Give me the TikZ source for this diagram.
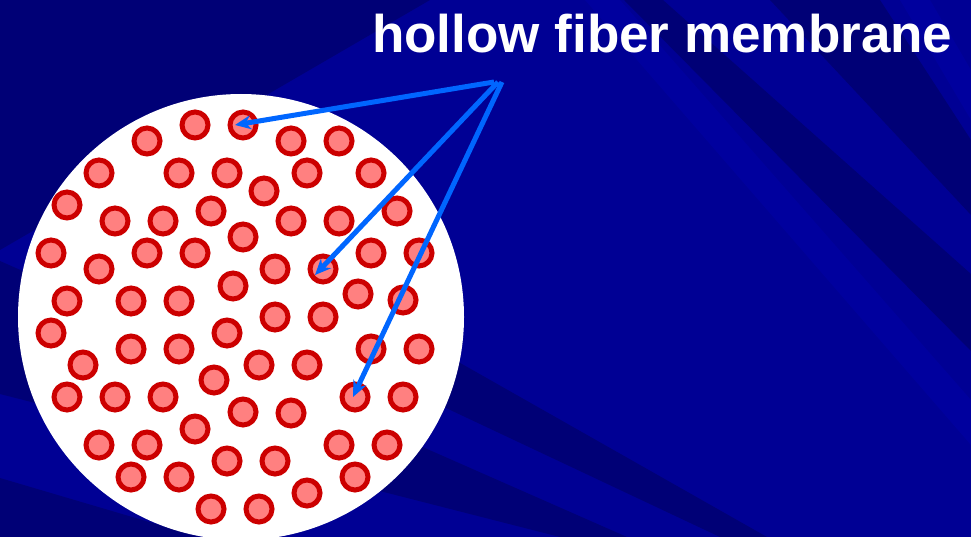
\documentclass[tikz,border=0pt]{standalone}
\usepackage{fontspec}
\setmainfont{Liberation Sans}
\usetikzlibrary{arrows.meta,calc}

\definecolor{slide}{RGB}{0,0,148}
\definecolor{slidedark}{RGB}{0,0,118}
\definecolor{slidelight}{RGB}{0,0,158}
\definecolor{fiberred}{RGB}{204,0,0}
\definecolor{fiberfill}{RGB}{255,128,128}
\definecolor{pointer}{RGB}{0,102,255}

\tikzset{
    fiber/.style={circle, draw=fiberred, fill=fiberfill, line width=5pt, minimum size=26pt, inner sep=0pt},
    pointer/.style={draw=pointer, line width=5pt, -{Stealth[length=16pt,width=14pt]}}
}

\begin{document}
\begin{tikzpicture}[x=1pt,y=-1pt]
        % background
        \useasboundingbox (0,0) rectangle (971,537);
        \clip (0,0) rectangle (971,537);
        \fill[slide] (0,0) rectangle (971,537);
        \fill[slidedark] (0,0) -- (430,0) -- (0,250) -- cycle;
        \fill[slidedark] (0,102) -- (767,537) -- (720,537) -- (0,198) -- cycle;
        \fill[slidedark] (0,261) -- (627,537) -- (560,537) -- (0,394) -- cycle;
        \fill[slidedark] (0,478) -- (200,537) -- (0,537) -- cycle;
        \fill[slidedark] (624,0) -- (663,0) -- (971,274) -- (971,351) -- cycle;
        \fill[slidedark] (770,0) -- (880,0) -- (971,140) -- (971,215) -- cycle;
        \fill[slidelight] (585,0) -- (620,0) -- (971,400) -- (971,445) -- cycle;
        \fill[slidelight] (900,0) -- (930,0) -- (971,70) -- (971,120) -- cycle;
        % cross section
        \fill[white] (241,317) circle[radius=223];
        % hollow fibers
        \foreach \x/\y [count=\i] in {195/125, 243/125, 147/141, 291/141, 339/141,
            99/173, 179/173, 227/173, 307/173, 371/173, 264/191, 67/205, 211/211,
            397/211, 115/221, 163/221, 291/221, 339/221, 243/237, 51/253, 147/253,
            195/253, 371/253, 419/253, 99/269, 275/269, 323/269, 233/286, 358/294,
            67/301, 131/301, 179/301, 403/300, 275/317, 323/317, 51/333, 227/333,
            131/349, 179/349, 371/349, 419/349, 83/365, 259/365, 307/365, 214/380,
            67/397, 115/397, 163/397, 355/397, 403/397, 243/412, 291/413, 195/429,
            99/445, 147/445, 339/445, 387/445, 227/461, 275/461, 131/477, 179/477,
            355/477, 307/493, 211/509, 259/509}
        {
            \node[fiber] (f\i) at (\x,\y) {};
        }
        % label
        \node[anchor=base west, inner sep=0pt, text=white, font=\fontsize{53}{60}\selectfont\bfseries] (title) at (372,53) {hollow fiber membrane};
        \coordinate (src1) at (494,82);
        \coordinate (src2) at (498,82);
        \coordinate (src3) at (502,82);
        \draw[pointer] (src1) -- ([xshift=-8pt]f2.center);
        \draw[pointer] (src2) -- ([xshift=-8pt,yshift=-6pt]f27.center);
        \draw[pointer] (src3) -- ([xshift=-2pt]f49.center);
\end{tikzpicture}
\end{document}
